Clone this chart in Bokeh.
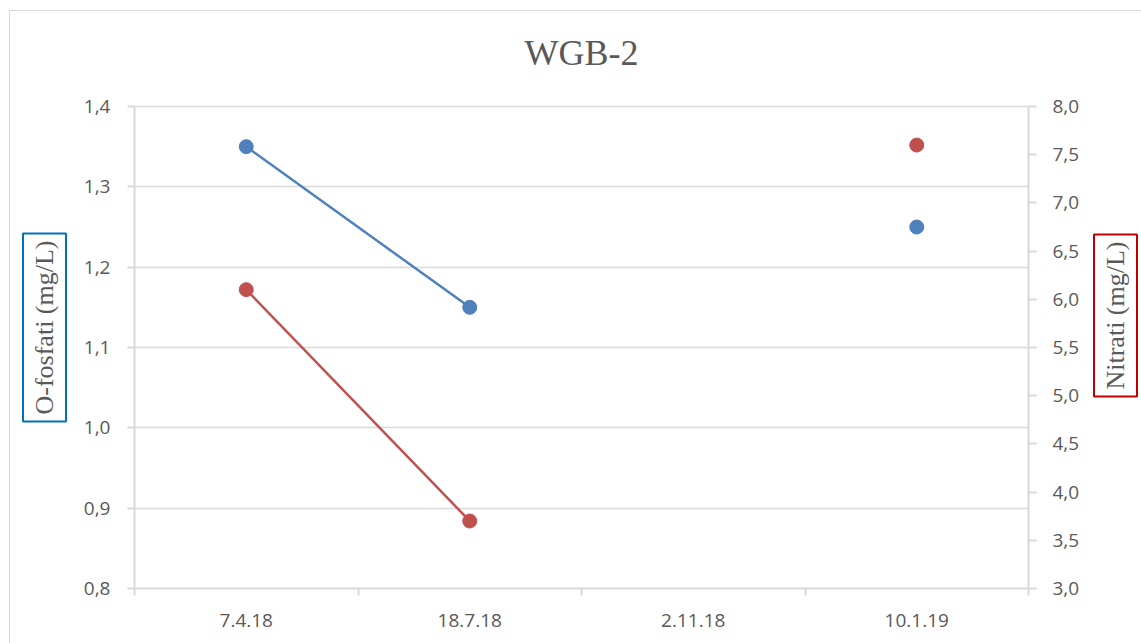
import numpy as np
from bokeh.plotting import figure
from bokeh.layouts import row
from bokeh.models import Range1d, LinearAxis, FixedTicker, CustomJSTickFormatter, Label
from bokeh.embed import file_html
from bokeh.resources import INLINE

# ---- data ----
categories = ["7.4.18", "18.7.18", "2.11.18", "10.1.19"]
o_fosfati = [1.35, 1.15, None, 1.25]
nitrati = [6.1, 3.7, None, 7.6]
left_ticks = [0.8, 0.9, 1.0, 1.1, 1.2, 1.3, 1.4]
right_ticks = [3.0, 3.5, 4.0, 4.5, 5.0, 5.5, 6.0, 6.5, 7.0, 7.5, 8.0]
title_text = "WGB-2"
left_label = "O-fosfati (mg/L)"
right_label = "Nitrati (mg/L)"

BLUE = "#4F81BD"
RED = "#C0504D"
GRID = "#D9D9D9"
TXT = "#595959"
H = 632          # canvas height
PLOT_PX = 482    # pixel height of the axis span
HEAD_PX = 95     # room above the axis span for the title (inside the frame)

n = len(categories)
xs = [i + 0.5 for i in range(n)]
yb = [np.nan if v is None else v for v in o_fosfati]
yr = [np.nan if v is None else v for v in nitrati]

l0, l1 = left_ticks[0], left_ticks[-1]
r0, r1 = right_ticks[0], right_ticks[-1]
l_top = l1 + (l1 - l0) * HEAD_PX / PLOT_PX
r_top = r1 + (r1 - r0) * HEAD_PX / PLOT_PX

# ---- main chart ----
p = figure(width=1005, height=H,
           x_range=Range1d(0, n), y_range=Range1d(l0, l_top),
           output_backend="svg", toolbar_location=None, title_location=None,
           min_border_left=54, min_border_right=57,
           min_border_top=0, min_border_bottom=55)
p.extra_y_ranges = {"nit": Range1d(r0, r_top)}
p.outline_line_color = None
p.background_fill_color = "white"
p.border_fill_color = "white"

# x axis
xa = p.xaxis[0]
xa.ticker = FixedTicker(ticks=xs, minor_ticks=list(range(n + 1)))
xa.formatter = CustomJSTickFormatter(args={"cats": categories},
                                     code="return cats[Math.floor(tick)];")
xa.major_tick_line_color = None
xa.major_tick_out = 0
xa.major_tick_in = 0
xa.minor_tick_out = 7
xa.minor_tick_in = 0
xa.minor_tick_line_color = GRID
xa.minor_tick_line_width = 2
xa.axis_line_color = GRID
xa.axis_line_width = 2
xa.major_label_standoff = 18
xa.major_label_text_font = "Open Sans"
xa.major_label_text_font_size = "19px"
xa.major_label_text_color = TXT

# left axis
ya = p.yaxis[0]
ya.ticker = FixedTicker(ticks=left_ticks)
ya.bounds = (l0, l1)
ya.formatter = CustomJSTickFormatter(code="return tick.toFixed(1).replace('.', ',');")
ya.major_tick_out = 7
ya.major_tick_in = 0
ya.minor_tick_line_color = None
ya.major_tick_line_color = GRID
ya.major_tick_line_width = 2
ya.axis_line_color = GRID
ya.axis_line_width = 2
ya.major_label_standoff = 17
ya.major_label_text_font = "Open Sans"
ya.major_label_text_font_size = "19px"
ya.major_label_text_color = TXT

# right axis
ra = LinearAxis(y_range_name="nit", ticker=FixedTicker(ticks=right_ticks), bounds=(r0, r1),
                formatter=CustomJSTickFormatter(code="return tick.toFixed(1).replace('.', ',');"))
ra.major_tick_out = 8
ra.major_tick_in = 0
ra.minor_tick_line_color = None
ra.major_tick_line_color = GRID
ra.major_tick_line_width = 2
ra.axis_line_color = GRID
ra.axis_line_width = 2
ra.major_label_standoff = 16
ra.major_label_text_font = "Open Sans"
ra.major_label_text_font_size = "19px"
ra.major_label_text_color = TXT
p.add_layout(ra, "right")

p.xgrid.visible = False
p.ygrid.ticker = FixedTicker(ticks=left_ticks)
p.ygrid.grid_line_color = GRID
p.ygrid.grid_line_width = 1.5

# series
p.line(xs, yb, line_color=BLUE, line_width=2.5)
p.scatter(xs, yb, size=14, fill_color=BLUE, line_color=BLUE)
p.line(xs, yr, line_color=RED, line_width=2.5, y_range_name="nit")
p.scatter(xs, yr, size=14, fill_color=RED, line_color=RED, y_range_name="nit")

# title (inside the frame, above the axis span)
p.add_layout(Label(x=447, y=536, x_units="screen", y_units="screen", text=title_text,
                   text_align="center", text_baseline="middle",
                   text_font="Liberation Serif", text_font_size="36px", text_color=TXT))


# ---- boxed axis titles (own small figures so they are not clipped) ----
def label_panel(width, text, color, cx, cy):
    f = figure(width=width, height=H, x_range=Range1d(0, width), y_range=Range1d(0, H),
               output_backend="svg", toolbar_location=None, title_location=None,
               x_axis_type=None, y_axis_type=None, min_border=0)
    f.outline_line_color = None
    f.xgrid.visible = False
    f.ygrid.visible = False
    f.background_fill_color = "white"
    f.border_fill_color = "white"
    f.add_layout(Label(x=cx, y=cy, x_units="screen", y_units="screen", text=text,
                       angle=np.pi / 2, text_align="center", text_baseline="middle",
                       text_font="Liberation Serif", text_font_size="26px", text_color=TXT,
                       border_line_color=color, border_line_width=2,
                       background_fill_color="white", padding=7))
    return f


left_fig = label_panel(70, left_label, "#0070C0", 34, 261)
right_fig = label_panel(56, right_label, "#C00000", 30, 273)

layout = row(left_fig, p, right_fig, spacing=0)
layout.styles = {"margin-left": "9px", "margin-top": "10px",
                 "border-left": "1px solid #D9D9D9", "border-top": "1px solid #D9D9D9"}

open("out.html", "w").write(file_html(layout, INLINE))
